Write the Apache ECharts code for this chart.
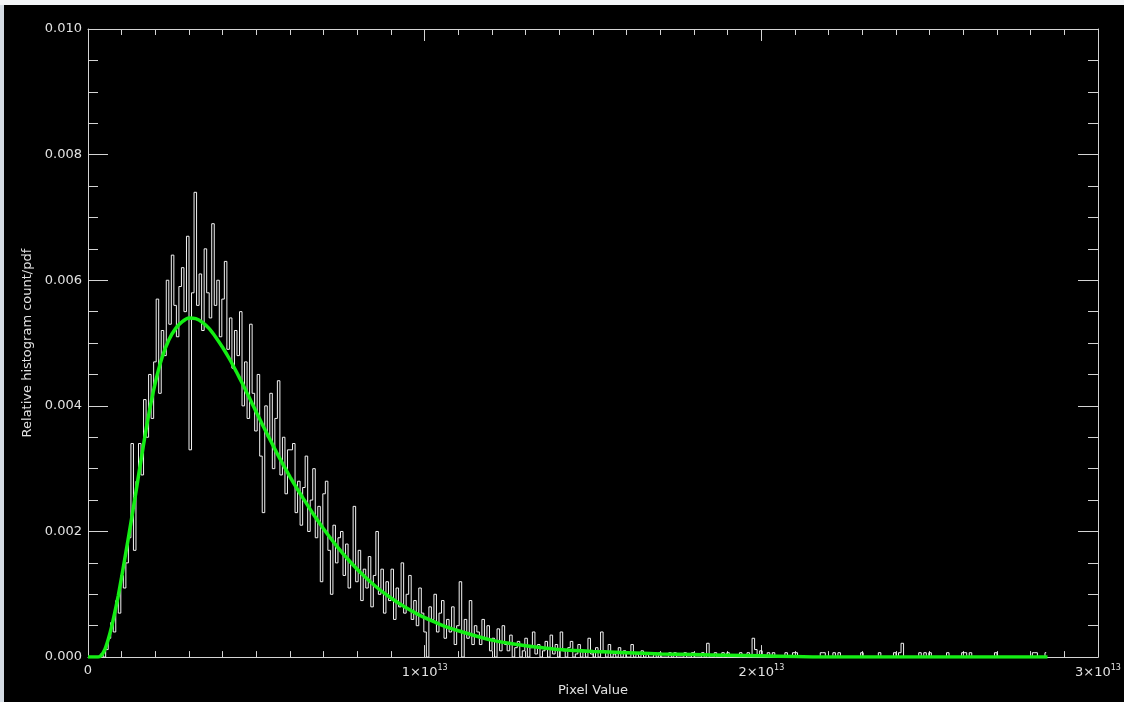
<!DOCTYPE html>
<html>
<head>
<meta charset="utf-8">
<script src="https://cdn.jsdelivr.net/npm/echarts@6/dist/echarts.min.js"></script>
<style>
html,body{margin:0;padding:0;width:1124px;height:702px;overflow:hidden;background:#d5dce4;}
#frameTop{position:absolute;left:0;top:0;width:1124px;height:5px;background:#f3f5f7;}
#chart{position:absolute;left:4px;top:5px;width:1120px;height:697px;background:#000;}
</style>
</head>
<body>
<div id="frameTop"></div>
<div id="chart"></div>
<script>
// ---- data ----
// histogram: bin width in pixel-value units, values in units of 1e-5
const binWidth = 7.5e10;
const valueUnit = 1e-5;
const histValues = [
  0,0,0,0,0,5,0,12,30,55,40,90,70,130,110,150,190,340,170,280,
  340,290,410,350,450,380,470,570,420,520,480,600,530,640,560,510,590,620,550,670,
  330,580,740,560,610,520,650,580,540,690,560,600,510,570,630,490,540,460,520,480,
  550,400,470,380,530,420,360,450,320,230,400,350,420,300,380,440,290,350,260,330,
  330,340,230,280,210,270,320,200,250,300,190,240,120,260,280,170,100,210,150,190,
  200,130,180,110,150,240,120,170,90,140,110,160,80,130,200,100,140,70,120,90,
  140,60,110,80,150,70,100,130,60,90,50,110,70,40,0,80,60,100,40,70,
  90,30,60,40,80,20,50,120,0,60,30,90,20,50,40,20,60,30,50,10,
  30,0,45,10,50,20,10,35,0,15,25,0,10,30,0,15,40,5,20,0,
  10,25,0,35,5,20,0,40,10,0,15,25,0,5,20,0,10,0,30,5,
  0,15,0,40,10,0,20,0,5,0,15,0,10,0,0,20,0,5,0,10,
  0,7,0,0,7,0,7,0,0,0,7,0,7,0,0,0,7,0,0,7,
  0,0,0,7,0,22,0,0,7,0,0,7,0,7,0,0,0,0,7,0,
  0,7,0,30,12,0,10,0,0,7,0,7,0,0,0,0,7,0,0,7,
  7,0,0,0,0,0,0,0,0,0,7,7,0,0,0,7,0,7,0,0,
  0,0,0,0,0,0,7,0,0,0,0,0,0,7,0,0,0,0,0,7,
  0,7,22,0,0,0,0,0,0,7,0,7,0,7,0,0,0,0,0,0,
  7,0,0,0,0,0,7,7,0,7,0,0,0,0,0,0,0,0,0,7,
  0,0,0,0,0,0,0,0,0,0,0,0,0,0,7,7,0,0,0,7
];
// fitted pdf curve: x in units of 1e12, y in units of 1e-5
const pdfXUnit = 1e12;
const pdfX = [0,0.3,0.4,0.5,0.6,0.7,0.8,0.9,1.0,1.2,1.4,1.6,1.8,2.0,2.2,2.4,2.6,2.8,3.0,3.2,3.4,3.6,3.8,4.0,4.2,4.4,4.6,4.8,5.0,5.2,5.4,5.6,5.8,6.0,6.2,6.4,6.7,7.0,7.4,7.8,8.2,8.6,9.0,9.4,9.8,10.2,10.6,11.0,11.5,12.0,12.5,13.0,13.5,14.0,15.0,16.0,17.0,18.0,19.0,20.0,21.0,22.0,25.0,28.5];
const pdfY = [0,0,3,12,28,48,72,98,128,190,255,322,385,437,477,505,523,534,540,539,533,523,509,493,475,455,434,412,390,368,347,326,306,287,269,252,227,204,176,151,129,110,94,80,68,58,49,42,34,27,22,18,15,12,9,7,5,4,3,2,1,0,0,0];
// axes
const xMin = 0, xMax = 3e13, xStep = 1e13;
const yMin = 0, yMax = 0.010, yStep = 0.002;
const xTitle = 'Pixel Value';
const yTitle = 'Relative histogram count/pdf';

// ---- build ----
const histData = histValues.map((v, i) => [(i + 0.5) * binWidth, v * valueUnit]);
const pdfData = pdfX.map((x, i) => [x * pdfXUnit, pdfY[i] * valueUnit]);

const axisCol = '#d4d4d4';
const txtCol = '#e2e2e2';
const font = 'DejaVu Sans';

function xAxisCfg(pos, showLabel) {
  return {
    type: 'value', position: pos, min: xMin, max: xMax, interval: xStep,
    name: pos === 'bottom' ? xTitle : '',
    nameLocation: 'middle', nameGap: 21,
    nameTextStyle: {color: txtCol, fontSize: 13, fontFamily: font},
    axisLine: {show: true, onZero: false, lineStyle: {color: axisCol, width: 1}},
    axisTick: {show: true, inside: true, length: 12, lineStyle: {color: axisCol}},
    minorTick: {show: true, splitNumber: 10, length: 6, lineStyle: {color: axisCol}},
    splitLine: {show: false}, minorSplitLine: {show: false},
    axisLabel: {
      show: showLabel, color: txtCol, fontSize: 13, fontFamily: font, margin: 7,
      formatter: function (v) {
        if (v === 0) return '0';
        return Math.round(v / 1e13) + '×10{s|13}';
      },
      rich: {s: {fontSize: 8, color: txtCol, fontFamily: font, padding: [0, 0, 9, 0]}}
    }
  };
}
function yAxisCfg(pos, showLabel) {
  return {
    type: 'value', position: pos, min: yMin, max: yMax, interval: yStep,
    name: pos === 'left' ? yTitle : '',
    nameLocation: 'middle', nameGap: 50, nameRotate: 90,
    nameTextStyle: {color: txtCol, fontSize: 13, fontFamily: font},
    axisLine: {show: true, onZero: false, lineStyle: {color: axisCol, width: 1}},
    axisTick: {show: true, inside: true, length: 20, lineStyle: {color: axisCol}},
    minorTick: {show: true, splitNumber: 4, length: 10, lineStyle: {color: axisCol}},
    splitLine: {show: false}, minorSplitLine: {show: false},
    axisLabel: {
      show: showLabel, color: txtCol, fontSize: 13, fontFamily: font, margin: 6,
      formatter: v => v.toFixed(3)
    }
  };
}

const chart = echarts.init(document.getElementById('chart'), null, {renderer: 'canvas'});
chart.setOption({
  backgroundColor: '#000',
  animation: false,
  grid: {left: 84, right: 26, top: 24, bottom: 44, containLabel: false},
  xAxis: [xAxisCfg('bottom', true), xAxisCfg('top', false)],
  yAxis: [yAxisCfg('left', true), yAxisCfg('right', false)],
  series: [
    {
      name: 'histogram', type: 'line', step: 'middle', showSymbol: false,
      data: histData, lineStyle: {color: '#f4f4f4', width: 1}, z: 2, clip: true
    },
    {
      name: 'pdf', type: 'line', smooth: 0.2, showSymbol: false,
      data: pdfData, lineStyle: {color: '#14ee14', width: 3.5}, z: 3, clip: true
    }
  ]
});
</script>
</body>
</html>
